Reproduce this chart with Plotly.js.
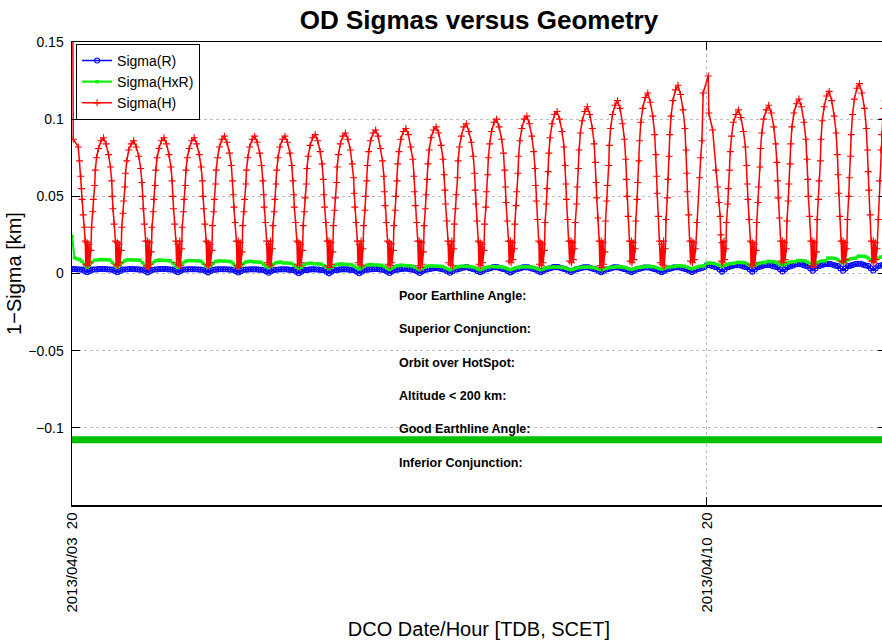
<!DOCTYPE html>
<html><head><meta charset="utf-8">
<script src="https://cdn.plot.ly/plotly-3.0.1.min.js"></script>
<style>html,body{margin:0;padding:0;overflow:hidden;background:#fff;width:882px;height:641px}</style>
</head><body><div id="chart" style="width:890px;height:641px"></div>
<script>
// ---------------- DATA ----------------
const chartTitle = 'OD Sigmas versus Geometry';
const xTitle = 'DCO Date/Hour [TDB, SCET]';
const yTitle = '1\u2212Sigma [km]';
const seriesNames = ['Sigma(R)', 'Sigma(HxR)', 'Sigma(H)'];

// sampling grid of the OD solutions
const startTime = '2013-04-03T20:00:00Z';
const endTime = '2013-04-12T19:22:00Z';
const stepH_min = 10;      // Sigma(H) slot spacing (minutes); _ = no solution in that slot
const stepRC_min = 40;     // Sigma(R), Sigma(HxR) sample spacing (minutes)

const xTickVals = ['2013-04-03 20:00:00', '2013-04-10 20:00:00'];
const xTickText = ['2013/04/03\u00a0\u00a020', '2013/04/10\u00a0\u00a020'];
const yTickVals = [-0.1, -0.05, 0, 0.05, 0.1, 0.15];
const yTickText = ['\u22120.1', '\u22120.05', '0', '0.05', '0.1', '0.15'];

const _ = null;
// Sigma(H) [km], 10-minute slots, one line per orbit-geometry cycle
const sigmaH = [
.31,_,
.087,_,_,_,_,_,_,_,.082,_,.073,_,.063,.055,.048,_,.038,_,.030,.021,.006,_,.020,.005,_,.019,.007,_,.015,.030,_,.040,.048,_,.057,.067,_,.075,_,_,.081,_,_,_,.086,_,_,_,
.088,_,_,_,.084,_,_,_,.077,_,_,.069,_,.060,.050,.042,_,.032,_,.021,.006,_,.020,.005,_,.019,.007,_,.015,.030,_,.039,.047,_,.056,.065,_,.073,_,_,.080,_,_,_,.084,_,_,_,
.086,_,_,_,.082,_,_,_,.076,_,_,.068,_,.059,.050,.042,_,.032,_,.021,.005,_,.021,.004,_,.020,.006,_,.014,.030,_,.040,.048,_,.057,.067,_,.075,_,_,.081,_,_,_,.086,_,_,_,
.088,_,_,_,.084,_,_,_,.077,_,_,.069,_,.060,.050,.042,_,.032,_,.021,.007,_,.019,.006,_,.021,.005,_,.016,.030,_,.040,.048,_,.057,.067,_,.075,_,_,.081,_,_,_,.086,_,_,_,
.088,_,_,_,.084,_,_,_,.077,_,_,.069,_,.060,.050,.042,_,.032,_,.021,.006,_,.020,.005,_,.019,.007,_,.015,.031,_,.040,.048,_,.058,.067,_,.075,_,_,.082,_,_,_,.087,_,_,_,
.089,_,_,_,.085,_,_,_,.078,_,_,.070,_,.060,.051,.043,_,.033,_,.021,.005,_,.021,.004,_,.020,.006,_,.014,.031,_,.040,.048,_,.058,.067,_,.075,_,_,.082,_,_,_,.087,_,_,_,
.089,_,_,_,.085,_,_,_,.078,_,_,.070,_,.060,.051,.043,_,.033,_,.021,.007,_,.019,.006,_,.021,.005,_,.016,.031,_,.040,.048,_,.058,.067,_,.075,_,_,.082,_,_,_,.087,_,_,_,
.089,_,_,_,.085,_,_,_,.078,_,_,.070,_,.060,.051,.043,_,.033,_,.021,.006,_,.020,.005,_,.019,.007,_,.015,.031,_,.040,.049,_,.058,.068,_,.076,_,_,.083,_,_,_,.088,_,_,_,
.090,_,_,_,.086,_,_,_,.079,_,_,.071,_,.061,.051,.043,_,.033,_,.021,.005,_,.021,.004,_,.020,.006,_,.014,.031,_,.041,.049,_,.059,.069,_,.077,_,_,.084,_,_,_,.089,_,_,_,
.091,_,_,_,.087,_,_,_,.080,_,_,.071,_,.062,.052,.043,_,.033,_,.021,.007,_,.019,.006,_,.021,.005,_,.016,.031,_,.041,.050,_,.060,.070,_,.079,_,_,.086,_,_,_,.091,_,_,_,
.093,_,_,_,.089,_,_,_,.081,_,_,.073,_,.063,.053,.044,_,.033,_,.021,.006,_,.020,.005,_,.019,.007,_,.015,.031,_,.041,.050,_,.060,.071,_,.079,_,_,.087,_,_,_,.092,_,_,_,
.094,_,_,_,.090,_,_,_,.082,_,_,.074,_,.063,.053,.044,_,.033,_,.021,.005,_,.021,.004,_,.020,.006,_,.014,.031,_,.042,.051,_,.061,.071,_,.080,_,_,.088,_,_,_,.093,_,_,_,
.095,_,_,_,.091,_,_,_,.083,_,_,.074,_,.064,.054,.045,_,.034,_,.021,.007,_,.019,.006,_,.021,.005,_,.016,.032,_,.042,.051,_,.062,.073,_,.082,_,_,.089,_,_,_,.095,_,_,_,
.097,_,_,_,.092,_,_,_,.085,_,_,.076,_,.065,.054,.045,_,.034,_,.021,.006,_,.020,.005,_,.019,.007,_,.015,.032,_,.043,.053,_,.064,.075,_,.084,_,_,.092,_,_,_,.098,_,_,_,
.100,_,_,_,.095,_,_,_,.087,_,_,.078,_,.067,.056,.046,_,.034,_,.021,.008,_,.021,.007,_,.020,.009,_,.016,.032,_,.044,.053,_,.065,.076,_,.086,_,_,.094,_,_,_,.100,_,_,_,
.102,_,_,_,.097,_,_,_,.089,_,_,.079,_,.068,.057,.047,_,.035,_,.021,.006,_,.020,.005,_,.019,.007,_,.015,.033,_,.045,.055,_,.066,.078,_,.088,_,_,.097,_,_,_,.103,_,_,_,
.105,_,_,_,.100,_,_,_,.092,_,_,.082,_,.070,.058,.048,_,.035,_,.021,.008,_,.021,.007,_,.020,.009,_,.016,.033,_,.045,.056,_,.068,.080,_,.091,_,_,.099,_,_,_,.105,_,_,_,
.108,_,_,_,.103,_,_,_,.094,_,_,.084,_,.072,.059,.049,_,.036,_,.021,.005,_,.021,.004,_,.020,.006,_,.014,.034,_,.047,.057,_,.070,.083,_,.094,_,_,.103,_,_,_,.109,_,_,_,
.112,_,_,_,.107,_,_,_,.097,_,_,.087,_,.074,.061,.050,_,.037,_,.021,.008,_,.021,.007,_,.020,.009,_,.016,.034,_,.048,.059,_,.073,.086,_,.098,_,_,.107,_,_,_,.114,_,_,_,
.117,_,_,_,.111,_,_,_,.102,_,_,.090,_,.077,.063,.052,_,.037,_,.021,.007,_,.019,.006,_,.021,.005,_,.016,.035,_,.049,.061,_,.076,.090,_,.102,_,_,.112,_,_,_,.119,_,_,_,
.122,_,_,_,.116,_,_,_,.106,_,_,.094,_,.080,.065,.053,_,.038,_,.021,.008,_,.021,.007,_,.020,.009,_,.016,_,.033,_,_,_,.062,_,.075,_,.086,_,.117,_,_,_,_,_,_,_,
.128,.104,_,_,_,_,_,.093,_,_,_,_,.067,_,_,.056,_,.046,_,.037,.025,.008,.020,.007,_,.021,.009,_,.016,.033,_,.045,.055,_,.067,.079,_,.089,_,_,.098,_,_,_,.103,_,_,_,
.106,_,_,_,.101,_,_,_,.092,_,_,.082,_,.070,.058,.048,_,.035,_,.021,.006,_,.020,.005,_,.019,.007,_,.015,.033,_,.046,.056,_,.069,.081,_,.091,_,_,.100,_,_,_,.106,_,_,_,
.109,_,_,_,.104,_,_,_,.095,_,_,.084,_,.072,.060,.049,_,.036,_,.021,.008,_,.021,.007,_,.020,.009,_,.016,.034,_,.047,.058,_,.071,.084,_,.095,_,_,.104,_,_,_,.110,_,_,_,
.113,_,_,_,.108,_,_,_,.098,_,_,.087,_,.074,.061,.050,_,.037,_,.021,.005,_,.021,.004,_,.020,.006,_,.014,.035,_,.048,.060,_,.073,.087,_,.099,_,_,.108,_,_,_,.115,_,_,_,
.118,_,_,_,.112,_,_,_,.102,_,_,.091,_,.077,.064,.052,_,.037,_,.021,.008,_,.021,.007,_,.020,.009,_,.016,.035,_,.050,.062,_,.076,.090,_,.103,_,_,.113,_,_,_,.120,_,_,_,
.123,_,_,_,.117,_,_,_,.107,_,_,.094,_,.080,.066,.054,_,.038,_,.021,.008,_,.021,.007,_,.020,.009,_,.016,_,.035,_,.060,_,.080,.090,_,.100,_,.107,_,.112,_,.116,_,.119
];

// Sigma(HxR) [km], 40-minute samples
const sigmaHxR = [
.0240,.0102,.0095,.0090,.0078,.0055,.0040,.0055,.0075,.0085,.0088,.0090,
.0090,.0090,.0089,.0087,.0071,.0052,.0040,.0052,.0071,.0083,.0088,.0089,
.0088,.0088,.0087,.0085,.0070,.0052,.0040,.0052,.0070,.0081,.0086,.0087,
.0085,.0085,.0084,.0082,.0068,.0050,.0039,.0050,.0068,.0079,.0083,.0084,
.0083,.0083,.0082,.0080,.0066,.0050,.0039,.0050,.0066,.0077,.0081,.0082,
.0080,.0080,.0079,.0077,.0064,.0048,.0038,.0048,.0064,.0074,.0078,.0079,
.0075,.0075,.0074,.0072,.0060,.0046,.0037,.0046,.0060,.0069,.0073,.0074,
.0068,.0068,.0067,.0065,.0055,.0042,.0034,.0042,.0055,.0063,.0066,.0067,
.0063,.0063,.0062,.0060,.0051,.0039,.0031,.0039,.0051,.0058,.0061,.0062,
.0059,.0059,.0058,.0056,.0047,.0036,.0029,.0036,.0047,.0054,.0057,.0058,
.0055,.0055,.0054,.0052,.0044,.0034,.0027,.0034,.0044,.0050,.0053,.0054,
.0051,.0051,.0050,.0048,.0041,.0031,.0025,.0031,.0041,.0047,.0049,.0050,
.0048,.0048,.0047,.0045,.0038,.0030,.0024,.0030,.0038,.0044,.0046,.0047,
.0046,.0046,.0045,.0043,.0037,.0029,.0024,.0029,.0037,.0042,.0044,.0045,
.0044,.0044,.0043,.0041,.0036,.0029,.0024,.0029,.0036,.0040,.0042,.0043,
.0043,.0043,.0042,.0040,.0035,.0028,.0024,.0028,.0035,.0039,.0041,.0042,
.0042,.0042,.0041,.0039,.0034,.0028,.0024,.0028,.0034,.0038,.0040,.0041,
.0042,.0042,.0041,.0039,.0034,.0028,.0024,.0028,.0034,.0038,.0040,.0041,
.0044,.0044,.0043,.0041,.0036,.0030,.0026,.0030,.0036,.0040,.0042,.0043,
.0046,.0046,.0045,.0043,.0038,.0032,.0028,.0032,.0038,.0042,.0044,.0045,
.0050,.0050,.0049,.0047,.0042,.0035,.0030,.0035,.0042,.0046,.0048,.0049,
.0067,.0068,.0067,.0065,.0059,.0052,.0047,.0052,.0059,.0063,.0065,.0066,
.0072,.0072,.0071,.0069,.0062,.0054,.0048,.0054,.0062,.0068,.0070,.0071,
.0078,.0078,.0077,.0075,.0068,.0058,.0052,.0058,.0068,.0074,.0076,.0077,
.0084,.0084,.0083,.0081,.0073,.0063,.0056,.0063,.0073,.0079,.0082,.0083,
.0100,.0100,.0099,.0097,.0088,.0077,.0070,.0077,.0088,.0095,.0098,.0099,
.0112,.0112,.0111,.0109,.0100,.0088,.0080,.0088,.0100,.0107,.0110,.0111
];

// Sigma(R) [km], 40-minute samples
const sigmaR = [
.0028,.0029,.0027,.0026,.0025,.0017,.0008,.0017,.0025,.0026,.0027,.0029,
.0029,.0029,.0027,.0026,.0025,.0016,.0008,.0016,.0025,.0026,.0028,.0029,
.0029,.0028,.0027,.0025,.0024,.0016,.0007,.0016,.0024,.0026,.0027,.0029,
.0029,.0029,.0027,.0026,.0025,.0017,.0008,.0017,.0025,.0026,.0027,.0028,
.0028,.0028,.0026,.0025,.0024,.0016,.0007,.0016,.0024,.0025,.0027,.0028,
.0028,.0028,.0026,.0025,.0024,.0015,.0006,.0015,.0024,.0025,.0026,.0027,
.0027,.0027,.0025,.0024,.0023,.0014,.0005,.0014,.0023,.0024,.0026,.0027,
.0027,.0027,.0025,.0023,.0022,.0012,.0002,.0012,.0022,.0023,.0025,.0027,
.0027,.0026,.0025,.0023,.0022,.0012,.0001,.0012,.0022,.0023,.0025,.0027,
.0027,.0027,.0025,.0023,.0022,.0012,.0002,.0012,.0022,.0024,.0026,.0028,
.0029,.0029,.0027,.0024,.0023,.0013,.0003,.0013,.0023,.0025,.0027,.0030,
.0031,.0031,.0028,.0025,.0023,.0014,.0004,.0014,.0023,.0026,.0029,.0033,
.0035,.0035,.0031,.0027,.0024,.0015,.0005,.0015,.0024,.0027,.0031,.0037,
.0040,.0040,.0034,.0029,.0026,.0017,.0008,.0017,.0026,.0029,.0034,.0040,
.0041,.0040,.0034,.0029,.0026,.0017,.0007,.0017,.0026,.0029,.0034,.0040,
.0040,.0040,.0035,.0029,.0026,.0017,.0008,.0017,.0026,.0030,.0035,.0041,
.0041,.0041,.0035,.0030,.0027,.0018,.0009,.0018,.0027,.0030,.0035,.0040,
.0040,.0040,.0034,.0029,.0026,.0017,.0008,.0017,.0026,.0029,.0034,.0040,
.0040,.0039,.0034,.0029,.0026,.0017,.0008,.0017,.0026,.0029,.0034,.0039,
.0039,.0039,.0034,.0029,.0026,.0017,.0008,.0017,.0026,.0029,.0034,.0040,
.0040,.0040,.0035,.0030,.0027,.0018,.0009,.0018,.0027,.0031,.0036,.0042,
.0054,.0054,.0048,.0043,.0040,.0026,.0012,.0026,.0040,.0043,.0048,.0054,
.0054,.0054,.0048,.0043,.0040,.0026,.0012,.0026,.0040,.0043,.0048,.0055,
.0055,.0055,.0049,.0044,.0041,.0027,.0013,.0027,.0041,.0045,.0050,.0058,
.0062,.0062,.0056,.0051,.0048,.0033,.0018,.0033,.0048,.0051,.0056,.0062,
.0062,.0062,.0056,.0051,.0048,.0033,.0018,.0033,.0048,.0051,.0056,.0062,
.0063,.0063,.0057,.0052,.0049,.0034,.0019,.0034,.0049,.0052,.0057,.0063
];

// geometry timeline bar ("Good Earthline Angle")
const goodEarthlineSpan = ['2013-04-03 20:00:00', '2013-04-13 06:00:00'];
const goodEarthlineLevel = [-0.1078, -0.1078];

const geometryLabels = ['Poor Earthline Angle:', 'Superior Conjunction:', 'Orbit over HotSpot:',
  'Altitude &lt; 200 km:', 'Good Earthline Angle:', 'Inferior Conjunction:'];

// ---------------- BUILD ----------------
function timeAt(i, stepMin) {
  const d = new Date(Date.parse(startTime) + i * stepMin * 60000);
  return d.toISOString().slice(0, 19).replace('T', ' ');
}
const tH = sigmaH.map((_v, i) => timeAt(i, stepH_min));
const tRC = sigmaR.map((_v, i) => timeAt(i, stepRC_min));
const fmt = s => s.slice(0, 19).replace('T', ' ');

const FONT = 'Liberation Sans, Arial, Helvetica, sans-serif';

const traces = [
  { x: tRC, y: sigmaR, name: seriesNames[0], type: 'scatter', mode: 'lines+markers',
    line: { color: '#0000ff', width: 1.6 },
    marker: { symbol: 'circle-open', size: 5, color: '#0000ff', line: { color: '#0000ff', width: 1.1 } } },
  { x: tRC, y: sigmaHxR, name: seriesNames[1], type: 'scatter', mode: 'lines+markers',
    line: { color: '#11ee11', width: 2.2 },
    marker: { symbol: 'square', size: 3.5, color: '#11ee11' } },
  { x: tH, y: sigmaH, name: seriesNames[2], type: 'scatter', mode: 'lines+markers', connectgaps: true,
    line: { color: '#ff0000', width: 1.5 },
    marker: { symbol: 'cross-thin', size: 5, color: '#ff0000', line: { color: '#ff0000', width: 1.1 } } },
  { x: goodEarthlineSpan, y: goodEarthlineLevel, type: 'scatter', mode: 'lines', showlegend: false,
    hoverinfo: 'skip', line: { color: '#00c000', width: 7 } }
];

const labelY = [0.451, 0.380, 0.307, 0.235, 0.164, 0.091];
const annotations = geometryLabels.map((t, i) => ({
  text: '<b>' + t + '</b>', xref: 'paper', yref: 'paper', x: 0.3995, y: labelY[i],
  xanchor: 'left', yanchor: 'middle', showarrow: false,
  font: { family: FONT, size: 12.5, color: '#000' }
}));

const axisCommon = {
  ticks: 'inside', ticklen: 8, tickwidth: 1, tickcolor: '#000',
  showline: true, linecolor: '#000', linewidth: 1.5, mirror: 'allticks',
  showgrid: true, gridcolor: '#bdbdbd', griddash: 'dot', gridwidth: 1,
  zeroline: false, automargin: false,
  tickfont: { family: FONT, size: 14, color: '#000' }
};

const layout = {
  width: 890, height: 641,
  margin: { l: 72, r: 4, t: 42, b: 136, pad: 0 },
  paper_bgcolor: '#fff', plot_bgcolor: '#fff',
  font: { family: FONT, color: '#000' },
  title: { text: '<b>' + chartTitle + '</b>', font: { family: FONT, size: 26, color: '#000' },
    x: 0.5, xref: 'paper', xanchor: 'center', y: 0.969, yref: 'container', yanchor: 'middle' },
  xaxis: Object.assign({}, axisCommon, {
    type: 'date', range: [fmt(startTime), fmt(endTime)],
    tickmode: 'array', tickvals: xTickVals, ticktext: xTickText, tickangle: -90,
    tickfont: { family: FONT, size: 15, color: '#000' },
    title: { text: xTitle, font: { family: FONT, size: 20, color: '#000' }, standoff: 10 }
  }),
  yaxis: Object.assign({}, axisCommon, {
    range: [-0.15, 0.15], tickmode: 'array', tickvals: yTickVals, ticktext: yTickText,
    ticklabelstandoff: 4,
    title: { text: yTitle, font: { family: FONT, size: 20, color: '#000' }, standoff: 1 }
  }),
  legend: { x: 0.005, y: 0.996, xanchor: 'left', yanchor: 'top', bgcolor: '#fff',
    bordercolor: '#000', borderwidth: 1, font: { family: FONT, size: 14, color: '#000' },
    tracegroupgap: 0 },
  annotations: annotations,
  showlegend: true,
  hovermode: false
};

Plotly.newPlot('chart', traces, layout, { staticPlot: true, displayModeBar: false });
</script>
</body></html>
